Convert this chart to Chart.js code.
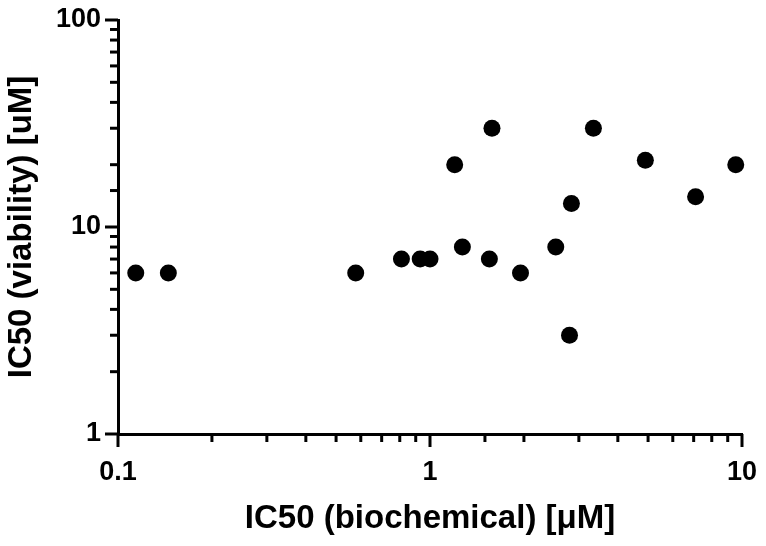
<!DOCTYPE html>
<html>
<head>
<meta charset="utf-8">
<script src="https://cdn.jsdelivr.net/npm/chart.js@4"></script>
<style>
  html, body { margin: 0; padding: 0; background: #ffffff; }
  #wrap { width: 766px; height: 546px; }
</style>
</head>
<body>
<div id="wrap"><canvas id="c" width="766" height="546"></canvas></div>
<script>
// Data (IC50 biochemical vs IC50 viability)
const xValues = [0.114, 0.145, 0.578, 0.81, 0.93, 1.0, 1.2, 1.27, 1.58, 1.55, 1.95, 2.53, 2.84, 2.8, 3.34, 4.9, 7.1, 9.55];
const yValues = [6, 6, 6, 7, 7, 7, 20, 8, 30, 7, 6, 8, 13, 3, 30, 21, 14, 20];
const xTickLabels = ['0.1', '1', '10'];
const yTickLabels = ['1', '10', '100'];
const xTitle = 'IC50 (biochemical) [\u03BCM]';
const yTitle = 'IC50 (viability) [uM]';

const points = xValues.map((x, i) => ({ x: x, y: yValues[i] }));

const FONT = "'Liberation Sans', Arial, sans-serif";

const tickPlugin = {
  id: 'logTicks',
  afterDraw(chart) {
    const ctx = chart.ctx;
    const xs = chart.scales.x, ys = chart.scales.y;
    const area = chart.chartArea;
    ctx.save();
    ctx.strokeStyle = '#000';
    ctx.lineWidth = 3;
    ctx.lineCap = 'butt';
    xs.ticks.forEach(t => {
      const px = xs.getPixelForValue(t.value);
      const len = t.major ? 13 : 8;
      ctx.beginPath();
      ctx.moveTo(px, area.bottom);
      ctx.lineTo(px, area.bottom + len);
      ctx.stroke();
    });
    ys.ticks.forEach(t => {
      const py = ys.getPixelForValue(t.value);
      const len = t.major ? 13 : 8;
      ctx.beginPath();
      ctx.moveTo(area.left, py);
      ctx.lineTo(area.left - len, py);
      ctx.stroke();
    });
    ctx.restore();
  }
};

new Chart(document.getElementById('c'), {
  type: 'scatter',
  data: {
    datasets: [{
      data: points,
      backgroundColor: '#000',
      borderWidth: 0,
      pointRadius: 8.5,
      pointHoverRadius: 8.5,
      clip: false
    }]
  },
  options: {
    responsive: false,
    animation: false,
    events: [],
    layout: { padding: { top: 20, right: 24, left: 0, bottom: 0 } },
    plugins: { legend: { display: false }, tooltip: { enabled: false } },
    scales: {
      x: {
        type: 'logarithmic',
        min: 0.1, max: 10,
        afterFit(s) { s.height = 112; s.paddingLeft = 0; s.paddingRight = 0; },
        grid: { display: false, drawTicks: false },
        border: { display: true, color: '#000', width: 3 },
        ticks: {
          autoSkip: false, maxRotation: 0, padding: 22, color: '#000',
          font: { family: FONT, size: 27, weight: 'bold' },
          callback: (v) => { const s = String(v); return xTickLabels.includes(s) ? s : ''; }
        },
        title: {
          display: true, text: xTitle, color: '#000',
          font: { family: FONT, size: 33, weight: 'bold' },
          padding: { top: 0, bottom: 7 }
        }
      },
      y: {
        type: 'logarithmic',
        min: 1, max: 100,
        afterFit(s) { s.width = 118; s.paddingTop = 0; s.paddingBottom = 0; },
        grid: { display: false, drawTicks: false },
        border: { display: true, color: '#000', width: 3 },
        ticks: {
          autoSkip: false, padding: 17, color: '#000',
          font: { family: FONT, size: 27, weight: 'bold' },
          callback: (v) => { const s = String(v); return yTickLabels.includes(s) ? s : ''; }
        },
        title: {
          display: true, text: yTitle, color: '#000',
          font: { family: FONT, size: 33, weight: 'bold' },
          padding: { top: 2, bottom: 0 }
        }
      }
    }
  },
  plugins: [tickPlugin]
});
</script>
</body>
</html>
